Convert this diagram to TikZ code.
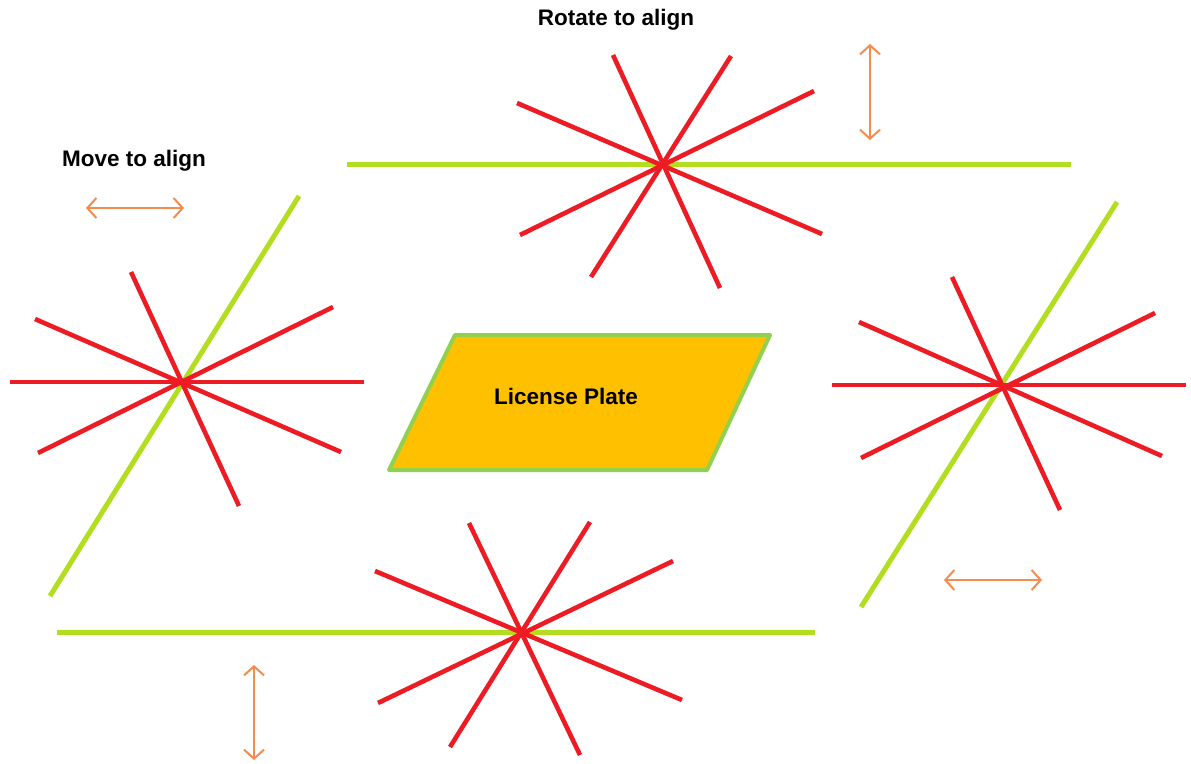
\documentclass[tikz,border=0pt]{standalone}
\usepackage{fontspec}
\setmainfont{Liberation Sans}
\usetikzlibrary{arrows.meta}
\definecolor{rayred}{HTML}{ED1C24}
\definecolor{lime}{HTML}{B2DE1F}
\definecolor{plate}{HTML}{FFC000}
\definecolor{plateedge}{HTML}{92D050}
\definecolor{arr}{HTML}{F68B4E}
\tikzset{
  ray/.style={draw=rayred, line width=4.6pt},
  guide/.style={draw=lime, line width=5pt},
  hint/.style={draw=arr, line width=2pt, {Straight Barb[length=9pt,width=20pt,line width=2pt]}-{Straight Barb[length=9pt,width=20pt,line width=2pt]}},
  label/.style={font=\bfseries\fontsize{22.5}{26}\selectfont, text=black, inner sep=0pt}
}
\begin{document}
\begin{tikzpicture}[x=1pt,y=-1pt]
\useasboundingbox (0,0) rectangle (1191,763);
% top star
\draw[guide] (347,164) -- (1071,164);
\draw[ray] (613,55) -- (720,288);
\draw[ray] (731,56) -- (591,277);
\draw[ray] (814,91) -- (520,235);
\draw[ray] (517,103) -- (822,234);
% left star
\draw[guide] (299,196) -- (50,596);
\draw[ray] (10,382) -- (364,382);
\draw[ray] (131,272) -- (239,506);
\draw[ray] (35,319) -- (341,452);
\draw[ray] (333,307) -- (38,453);
% right star
\draw[guide] (1117,202) -- (861,607);
\draw[ray] (832,385) -- (1186,385);
\draw[ray] (952,277) -- (1060,510);
\draw[ray] (859,322) -- (1162,456);
\draw[ray] (1155,313) -- (861,458);
% bottom star
\draw[guide] (57,632) -- (815,632);
\draw[ray] (469,523) -- (580,755);
\draw[ray] (590,522) -- (450,747);
\draw[ray] (375,571) -- (682,700);
\draw[ray] (673,561) -- (378,703);
% plate
\draw[draw=plateedge, fill=plate, line width=4pt, line join=round] (455,335) -- (770,335) -- (707,470) -- (389,470) -- cycle;
\node[label] (plate) at (566,396) {License Plate};
% labels
\node[label] (move) at (134,161) {Move to align};
\node[label] (rot) at (616,20) {Rotate to align};
% arrows
\coordinate (a1) at (870,44); \coordinate (a2) at (870,140);
\coordinate (b1) at (86,208); \coordinate (b2) at (184,208);
\coordinate (c1) at (944,580); \coordinate (c2) at (1042,580);
\coordinate (d1) at (254,665); \coordinate (d2) at (254,760);
\draw[hint] (a1) -- (a2);
\draw[hint] (b1) -- (b2);
\draw[hint] (c1) -- (c2);
\draw[hint] (d1) -- (d2);
\end{tikzpicture}
\end{document}
